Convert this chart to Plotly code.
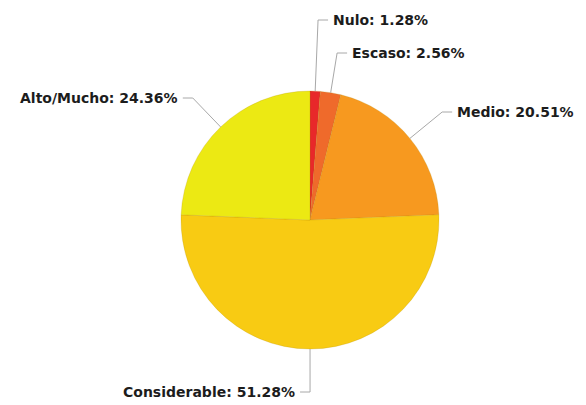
import math
import plotly.graph_objects as go

# ---- data ----
categories = ["Nulo", "Escaso", "Medio", "Considerable", "Alto/Mucho"]
percentages = [1.28, 2.56, 20.51, 51.28, 24.36]

# ---- style / layout ----
colors = ["#e8282a", "#ef6a2b", "#f7991f", "#f8cb13", "#ece913"]
W, H = 586, 405
CX, CY, R = 310, 220, 129
label_elbow_y = [20, 53, 112, 392, 98]   # pixel y of each label line
STUB = 10
GAP = 3

fig = go.Figure()
fig.add_trace(go.Pie(
    labels=categories,
    values=percentages,
    sort=False,
    direction="clockwise",
    rotation=0,
    textinfo="none",
    hoverinfo="label+percent",
    marker=dict(colors=colors, line=dict(color="rgba(170,130,0,0.35)", width=0.6)),
    domain=dict(x=[(CX - R) / W, (CX + R) / W], y=[1 - (CY + R) / H, 1 - (CY - R) / H]),
    showlegend=False,
))

def px(x):
    return x / W

def py(y):
    return 1 - y / H

total = sum(percentages)
cum = 0.0
shapes = []
annotations = []
for cat, val, ey in zip(categories, percentages, label_elbow_y):
    mid = (cum + val / 2) / total * 2 * math.pi
    cum += val
    dx, dy = math.sin(mid), -math.cos(mid)
    ex, eyy = CX + R * dx, CY + R * dy
    # extend radially until reaching label y
    if abs(dy) > 1e-6:
        t = (ey - eyy) / dy
    else:
        t = 20
    bx, by = ex + t * dx, eyy + t * dy
    side = 1 if dx >= -1e-9 else -1
    if cat == "Considerable":
        side = -1
    sx = bx + side * STUB
    shapes.append(dict(type="path", xref="paper", yref="paper",
                       path=f"M {px(ex)},{py(eyy)} L {px(bx)},{py(by)} L {px(sx)},{py(by)}",
                       line=dict(color="#a8a8a8", width=1)))
    pct = f"{val:.2f}%"
    annotations.append(dict(
        x=px(sx + side * GAP), y=py(by), xref="paper", yref="paper",
        text=f"<b>{cat}: {pct}</b>", showarrow=False,
        xanchor="left" if side > 0 else "right", yanchor="middle",
        font=dict(family="DejaVu Sans", size=14, color="#1c1c1c"),
    ))

fig.update_layout(
    width=W, height=H,
    margin=dict(l=0, r=0, t=0, b=0),
    paper_bgcolor="white", plot_bgcolor="white",
    shapes=shapes, annotations=annotations,
    font=dict(family="DejaVu Sans"),
)

fig.write_html("out.html")
